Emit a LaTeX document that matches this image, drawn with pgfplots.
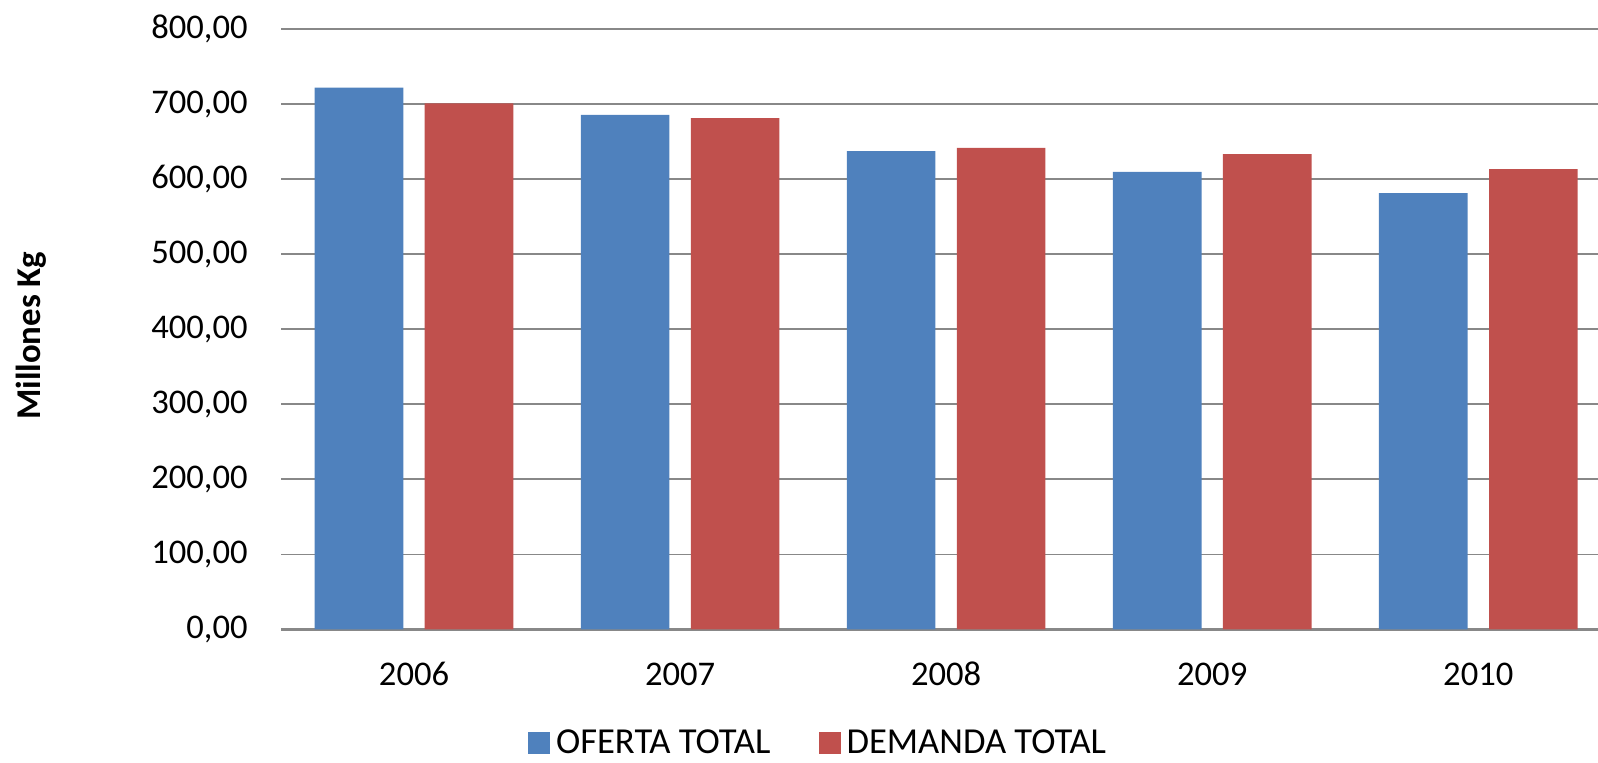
\documentclass[border=0pt]{standalone}
\usepackage{pgfplots}
\pgfplotsset{compat=1.18}
\usepackage{fontspec}
\setmainfont{Carlito}
\definecolor{cblue}{HTML}{4F81BD}
\definecolor{cred}{HTML}{C0504D}
\definecolor{cgrid}{HTML}{888888}
\begin{document}
\begin{tikzpicture}
\useasboundingbox (0,0) rectangle (799pt,381.5pt);
\clip (0,0) rectangle (799pt,381.5pt);
\begin{axis}[
  at={(140.5pt,66.85pt)}, anchor=south west,
  scale only axis, width=658.5pt, height=300.15pt,
  ybar=10.7pt, bar width=44.3pt,
  xmin=-0.5, xmax=4.45, ymin=0, ymax=800,
  xtick={0,1,2,3,4}, xticklabels={2006,2007,2008,2009,2010},
  ytick={0,100,...,800},
  axis x line*=bottom, axis y line*=left,
  x axis line style={draw=cgrid, line width=1.3pt},
  y axis line style={draw=none},
  major tick length=0pt,
  ymajorgrids, grid style={draw=cgrid, line width=0.75pt},
  tick label style={font=\fontsize{17.3}{20}\selectfont},
  yticklabel style={anchor=east, inner sep=0pt, xshift=-16.5pt},
  xticklabel style={anchor=base, inner sep=0pt, yshift=-28.35pt},
  /pgf/number format/.cd, assume math mode=true, fixed, fixed zerofill, precision=2, use comma, 1000 sep={},
  /pgfplots/.cd,
  ylabel={Millones Kg},
  every axis y label/.style={at={(axis description cs:-0.1893,0.489)}, rotate=90, anchor=center, font=\fontsize{17.4}{20}\selectfont\bfseries},
  legend columns=2,
  legend style={at={(axis description cs:0.1876,-0.2127)}, anchor=south west, draw=none, fill=none, inner sep=0pt, outer sep=0pt,
    font=\fontsize{18.3}{21}\selectfont, nodes={inner sep=0pt, anchor=base west},
    /tikz/every odd column/.append style={column sep=3pt},
    /tikz/every even column/.append style={column sep=24pt}},
  legend image code/.code={\fill[#1] (0pt,0pt) rectangle (11pt,11pt);},
]
\addplot[fill=cblue, draw=none] coordinates {(0,722.0) (1,685.7) (2,637.3) (3,609.7) (4,581.3)};
\addplot[fill=cred, draw=none] coordinates {(0,700.8) (1,681.3) (2,641.7) (3,633.3) (4,613.3)};
\legend{OFERTA TOTAL, DEMANDA TOTAL}
\end{axis}
\end{tikzpicture}
\end{document}
